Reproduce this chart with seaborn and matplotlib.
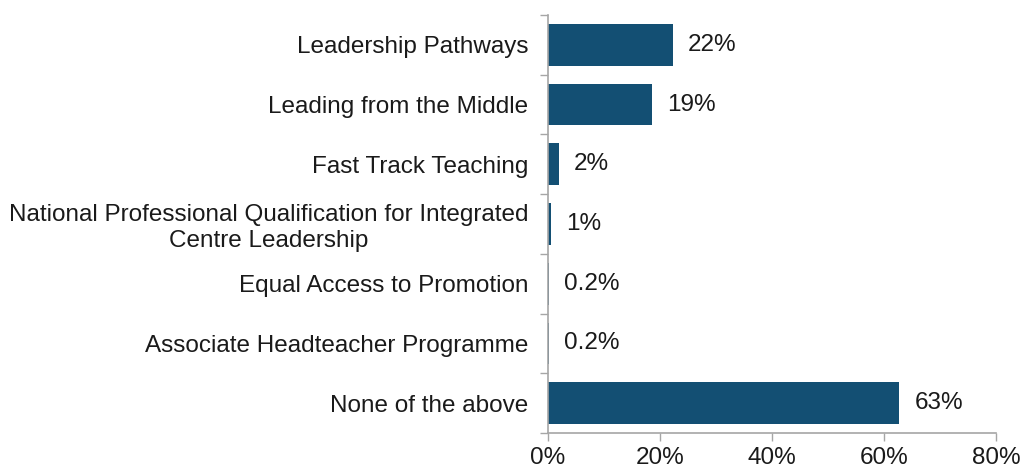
import numpy as np
import matplotlib
matplotlib.use("Agg")
import matplotlib.pyplot as plt
import seaborn as sns

# ==========================================
# data
# ==========================================
programmes = ['Leadership Pathways',
              'Leading from the Middle',
              'Fast Track Teaching',
              'National Professional Qualification for Integrated\nCentre Leadership',
              'Equal Access to Promotion',
              'Associate Headteacher Programme',
              'None of the above']
shares = [22.3, 18.6, 2.0, 0.6, 0.2, 0.2, 62.7]
share_labels = ['22%', '19%', '2%', '1%', '0.2%', '0.2%', '63%']
x_ticks = [0, 20, 40, 60, 80]

sns.set_style('white')
plt.rcParams['font.family'] = ['Liberation Sans', 'DejaVu Sans']

fig = plt.figure(figsize=(10.3, 4.71), dpi=100)
ax = fig.add_axes([0.5316, 0.0807, 0.4354, 0.8875])

sns.barplot(x=shares, y=programmes, color='#134F73', width=0.7,
            edgecolor='none', linewidth=0, saturation=1, ax=ax)

ax.bar_label(ax.containers[0], labels=share_labels, padding=11,
             fontsize=17.5, color='#1a1a1a')

ax.set_xlim(0, 80)
ax.set_xticks(x_ticks)
ax.set_xticklabels([f'{t}%' for t in x_ticks])
ax.set_xlabel('')
ax.set_ylabel('')

# tick marks between categories, labels at centres
ax.set_yticks(np.arange(-0.5, len(programmes), 1), minor=True)
ax.tick_params(axis='y', which='major', length=0, pad=14, labelsize=17.5,
               labelcolor='#1a1a1a')
ax.tick_params(axis='y', which='minor', length=6, width=1, color='#a6a6a6',
               direction='out', left=True)
ax.tick_params(axis='x', which='major', length=6, width=1, color='#a6a6a6',
               direction='out', bottom=True, pad=4, labelsize=17.5,
               labelcolor='#1a1a1a')
for lab in ax.get_yticklabels():
    lab.set_multialignment('center')

for side in ['top', 'right']:
    ax.spines[side].set_visible(False)
for side in ['left', 'bottom']:
    ax.spines[side].set_color('#a6a6a6')
    ax.spines[side].set_linewidth(1.2)

plt.savefig('out.png', dpi=100)
